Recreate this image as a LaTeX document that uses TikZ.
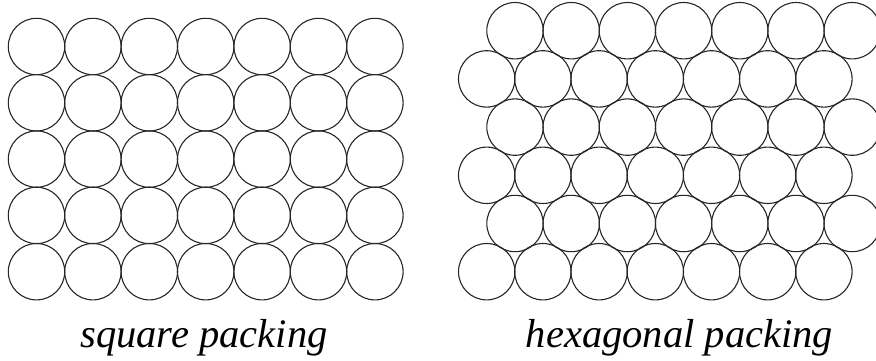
\documentclass[tikz,border=0pt]{standalone}
\usepackage{fontspec}
\setmainfont{Liberation Serif}
\begin{document}
\begin{tikzpicture}[x=1pt,y=-1pt,
  disc/.style={draw=black!85, line width=1.1pt},
  caption/.style={anchor=base, font=\fontsize{40.5}{48}\selectfont\itshape}]
\useasboundingbox (0,0) rectangle (876,360);
\begin{scope}
  \clip (0,0) rectangle (876,360);
  % square packing: 7 x 5 grid
  \foreach \i in {0,...,4}
    \foreach \j in {0,...,6}
      \draw[disc] ({36.5+56.4*\j},{46.5+56.3*\i}) circle[radius=28.2];
  % hexagonal packing: 6 staggered rows of 7
  \foreach \i in {0,...,5}{
    \pgfmathsetmacro{\xoff}{mod(\i,2)==0 ? 515 : 486.7}
    \foreach \j in {0,...,6}
      \draw[disc] ({\xoff+56.2*\j},{30.7+48.2*\i}) circle[radius=28.2];
  }
\end{scope}
\node[caption] (sq) at (204,347) {square packing};
\node[caption] (hx) at (679.5,347) {hexagonal packing};
\end{tikzpicture}
\end{document}
